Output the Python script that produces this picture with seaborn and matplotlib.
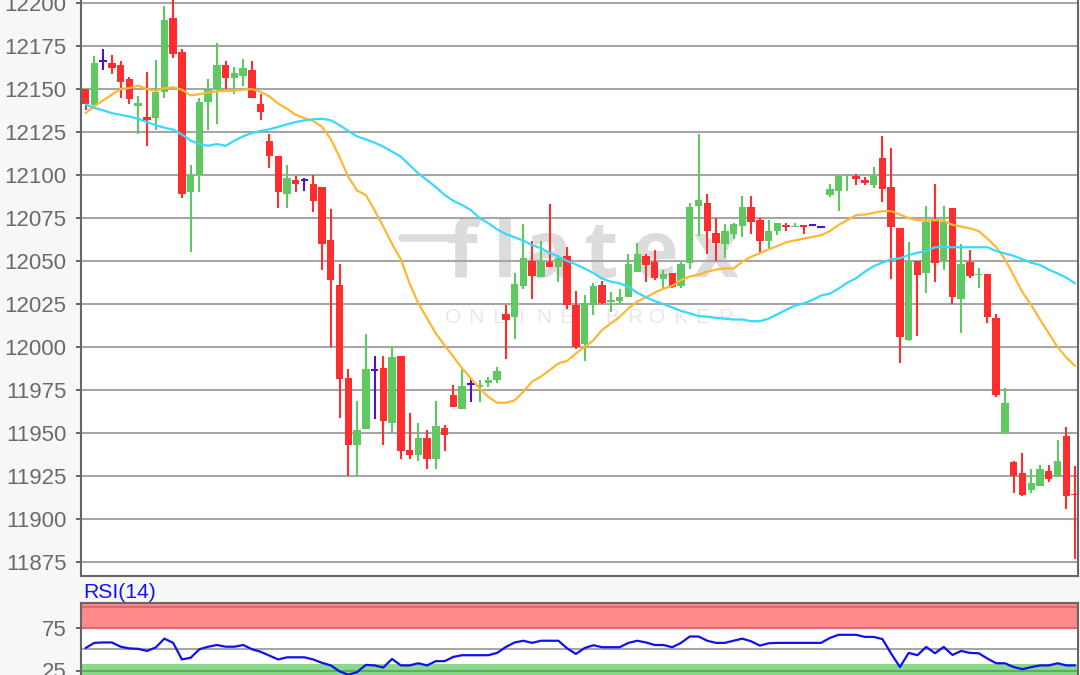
"""
Candlestick chart with two moving averages and an RSI(14) pane.
"""

import numpy as np
import pandas as pd
import matplotlib.pyplot as plt
import seaborn as sns

opens = [
    12150, 12140.5, 12166, 12165, 12164, 12156, 12140, 12134, 12133, 12148,
    12191, 12171.5, 12090, 12100, 12142.5, 12150, 12164, 12156.5, 12157.5, 12161,
    12141, 12120, 12111, 12089, 12097, 12097, 12095, 12093, 12062, 12036,
    11982, 11943, 11952.5, 11986.6, 11988, 11956, 11995, 11940, 11937.4, 11947.3,
    11935, 11953, 11972, 11964, 11978.3, 11976.5, 11979, 11980.8, 12019.2, 12017.2,
    12035.7, 12050.2, 12040.5, 12049.6, 12046.3, 12053, 12024.4, 12001.7, 12024.4, 12036,
    12026, 12026.7, 12028.9, 12043.8, 12052.9, 12049.6, 12039.3, 12043.2, 12035.7, 12048.6,
    12082, 12084, 12066.5, 12059.9, 12066, 12070.5, 12081.6, 12073.8, 12061.6, 12067.4,
    12070.9, 12069.6, 12070.9, 12071.1, 12069.8, 12088.4, 12090.7, 12099.6, 12099.4, 12096.9,
    12094.2, 12109.7, 12093.2, 12069, 12004, 12049.8, 12042.8, 12074.2, 12050.2, 12080.6,
    12027.7, 12049.4, 12041.7, 12042.2, 12016.7, 11950, 11933, 11927, 11916.7, 11919.4,
    11928, 11924.4, 11948, 11914.5,
]
closes = [
    12141.5, 12165, 12166, 12162, 12154, 12144, 12142, 12132, 12148, 12190,
    12170.5, 12089, 12100, 12142.5, 12150, 12164, 12156.5, 12159.5, 12162, 12145,
    12136.5, 12111, 12090, 12098, 12095, 12097, 12085, 12060, 12039, 11981.6,
    11943, 11951.7, 11987, 11986.6, 11957, 11994, 11939.5, 11937.4, 11947.3, 11935,
    11954, 11949, 11965, 11977.3, 11978.3, 11978, 11980.8, 11986, 12016, 12036.6,
    12051.6, 12041.5, 12050.2, 12046.7, 12051.6, 12024.4, 12000.2, 12025.8, 12035.5, 12025.8,
    12027.3, 12029.3, 12048, 12053.9, 12047.7, 12040.3, 12042.2, 12035, 12048, 12081.6,
    12085.5, 12067.4, 12060.3, 12067.4, 12071.3, 12081.6, 12072.9, 12061.6, 12067.4, 12072.3,
    12069.8, 12070.3, 12070, 12071.1, 12069.8, 12091.9, 12099.4, 12100, 12097.9, 12095.3,
    12099.4, 12091.9, 12069.8, 12005.6, 12049.8, 12041.7, 12072.9, 12048.6, 12072.9, 12028.9,
    12048.3, 12041.3, 12042.2, 12017.2, 11972, 11967.6, 11925, 11914, 11921, 11929,
    11923, 11934, 11913.6, 11913.8,
]
highs = [
    12150, 12169, 12173.5, 12170, 12166, 12157, 12146, 12160, 12167, 12198,
    12203, 12173.5, 12106, 12144.5, 12156, 12177, 12166.5, 12163, 12167.5, 12166.5,
    12147, 12124, 12111, 12106, 12099.5, 12098, 12100, 12093, 12080.5, 12048,
    11987, 11968.6, 12007.5, 11995, 11995, 12000.6, 11995, 11961.4, 11955.6, 11952,
    11968.4, 11954.5, 11977.7, 11988, 11981.8, 11980.8, 11982.4, 11988.6, 12024.4, 12043.2,
    12071.3, 12061.8, 12061.8, 12083, 12053.5, 12058.3, 12032.8, 12030.4, 12037.4, 12038.6,
    12031.8, 12034, 12053.9, 12060.7, 12053.9, 12056.4, 12044.8, 12043.2, 12049.6, 12084,
    12123.8, 12088.8, 12074.8, 12071.3, 12072.3, 12087.8, 12087.8, 12074.8, 12073.8, 12072.3,
    12072.3, 12072.3, 12070.9, 12071.1, 12069.8, 12094.6, 12100, 12100, 12100.4, 12099,
    12104.8, 12122.7, 12115.5, 12069, 12060.9, 12049.8, 12082, 12094.6, 12082, 12080.6,
    12059.7, 12056.4, 12045.7, 12042.2, 12019, 11976, 11934, 11938.5, 11929, 11931.6,
    11931.6, 11945.7, 11953.5, 11930.6,
]
lows = [
    12138, 12140, 12161, 12158.5, 12145, 12141, 12124, 12117, 12126, 12145,
    12168, 12086.5, 12055, 12090, 12126, 12129.5, 12150, 12147, 12151.5, 12145,
    12132, 12104, 12081, 12081, 12090, 12091, 12078.5, 12045, 12000, 11958.5,
    11925, 11925, 11952.5, 11958, 11943, 11950, 11934.7, 11935, 11933.7, 11929,
    11929, 11939.5, 11965, 11964, 11968, 11968, 11977, 11979, 11992.8, 12004.5,
    12033.5, 12027.7, 12040.5, 12046.3, 12038, 12022, 11998.6, 11991.7, 12018.6, 12025,
    12020.5, 12024.8, 12028.9, 12043.8, 12038, 12039, 12034.5, 12034.5, 12034.5, 12045.2,
    12064.7, 12054, 12050, 12052, 12062.6, 12063.8, 12066, 12054.5, 12056.8, 12065,
    12067.2, 12069.6, 12066, 12071.1, 12069.8, 12087, 12078.9, 12090.7, 12094.2, 12094,
    12092.6, 12084.5, 12039.3, 11990.5, 12003.5, 12006.6, 12031.2, 12038, 12044.8, 12025,
    12008, 12040.3, 12034.5, 12013.8, 11970.7, 11950, 11915, 11913.5, 11915, 11919.4,
    11921.5, 11924.4, 11906, 11877,
]
ma_fast = [
    12136, 12140, 12143.4, 12146.7, 12150, 12150.5, 12152, 12150, 12149, 12150.5,
    12151, 12149.6, 12146.3, 12147, 12148, 12148.6, 12149, 12149, 12149.6, 12150,
    12148.3, 12145.7, 12141.5, 12138.5, 12135, 12133, 12131.4, 12128, 12121, 12110.5,
    12099, 12091, 12088.4, 12079.6, 12070, 12060, 12051, 12037, 12025.4, 12016.7,
    12008, 12001, 11994.4, 11987.6, 11981.8, 11976, 11971, 11967.6, 11967.6, 11969,
    11974, 11980, 11982.8, 11986.6, 11990.5, 11992, 11996.3, 12000, 12004, 12010,
    12013.8, 12017.6, 12022.5, 12026.4, 12029, 12031.6, 12034, 12035.5, 12039, 12041,
    12042, 12043.8, 12045, 12045.7, 12045.7, 12049.6, 12052.5, 12054.5, 12056.8, 12058.7,
    12060.9, 12062, 12063, 12064, 12065, 12067.4, 12071, 12073.8, 12076.7, 12077,
    12078, 12079, 12079, 12077, 12075, 12073.8, 12073.4, 12073.8, 12073.4, 12071,
    12070, 12069, 12067.4, 12063, 12058, 12051, 12041.5, 12031.8, 12024.4, 12016,
    12008, 12000, 11994, 11989,
]
ma_slow = [
    12141, 12139, 12137.6, 12136, 12135, 12134, 12132.7, 12130.8, 12129, 12127.5,
    12126.4, 12123.6, 12120, 12118, 12117, 12118, 12117, 12120, 12122.5, 12124.4,
    12125.6, 12126.6, 12128, 12129.5, 12130.8, 12131.8, 12132.4, 12132.7, 12131.8, 12129,
    12125.6, 12122.5, 12120.7, 12118.8, 12116.5, 12113.6, 12110.7, 12105.8, 12101, 12097,
    12093, 12088.4, 12085, 12082.6, 12079.6, 12075, 12072, 12068.4, 12065.7, 12063.8,
    12061.8, 12059.3, 12057.4, 12054.8, 12052.5, 12050, 12048, 12045.6, 12043, 12039.7,
    12038, 12037, 12035, 12031.6, 12029, 12026.7, 12025, 12023, 12021, 12019.6,
    12018, 12017.6, 12017, 12016.5, 12016, 12016, 12015, 12015, 12016.5, 12019,
    12021.6, 12024, 12025.4, 12027.3, 12030, 12031, 12034, 12037.4, 12040, 12043.8,
    12047, 12049, 12051, 12051.6, 12053.5, 12054.8, 12055.8, 12058, 12058.3, 12058,
    12058, 12058, 12058, 12058, 12055.8, 12054.4, 12053, 12051, 12049, 12047.7,
    12045, 12042.8, 12040.4, 12037,
]
rsi_values = [
    51.5, 57.5, 58, 58, 53, 51, 50.5, 48, 52, 62.5,
    57.5, 38, 40, 50, 53, 55, 53, 53, 55, 50,
    47, 42.5, 38, 40.5, 40.5, 40.5, 38, 34, 31, 24,
    20, 23, 31.6, 31, 28.5, 38.6, 31, 31, 33.5, 31,
    36, 36, 41, 43, 43, 43, 43, 45.7, 52.7, 58,
    60, 57.5, 60, 60, 60, 51, 44.5, 51.5, 54.7, 52.4,
    52.4, 52.4, 57.5, 60, 58, 55, 55, 52.4, 57.5, 65,
    65, 60, 57.5, 57.5, 60, 62.5, 59.4, 54.3, 57, 57.5,
    57.5, 57.5, 57.5, 57.5, 57.5, 63.3, 67, 67, 67, 64.5,
    64.5, 62, 45, 29, 45.7, 43, 52.7, 45.3, 52.7, 43.3,
    48, 45.7, 45.3, 39, 33.5, 33.5, 29, 26.5, 29, 31,
    31, 33.5, 31, 31,
]
price_ticks = [11875, 11900, 11925, 11950, 11975, 12000, 12025, 12050, 12075, 12100, 12125, 12150, 12175, 12200]
rsi_grid = [25, 50, 75, 100]
rsi_ticks = [25, 75]

UP, DOWN, FLAT = "#60c860", "#ff2e2e", "#4a14cc"
GRID, SPINE, LABEL = "#a6a6a6", "#666666", "#6a6a6a"
MARK = "#dcdcdc"

sns.set_theme(style="white")
plt.rcParams["font.family"] = ["Liberation Sans", "DejaVu Sans"]

df = pd.DataFrame({"open": opens, "high": highs, "low": lows, "close": closes,
                   "ma_fast": ma_fast, "ma_slow": ma_slow, "rsi": rsi_values})
df["idx"] = np.arange(len(df))
df["body"] = (df["close"] - df["open"]).abs()
df["base"] = df[["open", "close"]].min(axis=1)
df["color"] = np.where(df["close"] > df["open"], UP, np.where(df["close"] < df["open"], DOWN, FLAT))

W, H = 1080, 675
PANE_L, PANE_R = 81, 1078
MAIN_T, MAIN_B = -5, 576
fig = plt.figure(figsize=(W / 100, H / 100), dpi=100, facecolor="#f7f7f7")


def add_pane(left, top, right, bottom):
    # pixel box from the top left corner of the picture
    return fig.add_axes([left / W, 1 - bottom / H, (right - left) / W, (bottom - top) / H])


def pane_xy(x, y):
    # picture pixels to axes fractions of the price pane
    return (x - PANE_L) / (PANE_R - PANE_L), (MAIN_B - y) / (MAIN_B - MAIN_T)


def style_pane(ax, ticks, grid_at):
    ax.set_facecolor("white")
    ax.set_xlim(-0.525, 113.34)
    ax.set_xticks([])
    ax.set_yticks(ticks)
    ax.set_yticklabels([str(t) for t in ticks], color=LABEL, fontsize=16)
    ax.tick_params(axis="y", left=True, length=3.6, width=1.4, color=SPINE, pad=7)
    ax.hlines(grid_at, -1, 115, color=GRID, lw=1.5, zorder=1)
    ax.spines["top"].set_visible(False)
    for side in ["left", "right", "bottom", "top"]:
        ax.spines[side].set_color(SPINE)
        ax.spines[side].set_linewidth(1.5)


# price pane
ax = add_pane(PANE_L, MAIN_T, PANE_R, MAIN_B)
ax.set_ylim(11866.9, 12204.65)
style_pane(ax, price_ticks, price_ticks)

# watermark behind the grid
x0, y0 = pane_xy(402, 238)
x1, _ = pane_xy(472, 238)
ax.plot([x0, x1], [y0, y0], transform=ax.transAxes, color=MARK, lw=5.5,
        solid_capstyle="round", zorder=0.5)
for ch, px in zip("flatex", [462, 505, 548, 600, 655, 715]):
    tx, ty = pane_xy(px, 277)
    ax.text(tx, ty, ch, transform=ax.transAxes, color=MARK, fontsize=57, ha="center",
            va="baseline", zorder=0.5, family="Open Sans", weight="bold")
for i, ch in enumerate("ONLINE BROKER"):
    tx, ty = pane_xy(453 + 22.7 * i, 317)
    ax.text(tx, ty, ch, transform=ax.transAxes, color="#e8e8e8", fontsize=15, ha="center",
            va="center", zorder=0.5, family="Liberation Sans")

sns.lineplot(data=df, x="idx", y="ma_fast", ax=ax, color="#fdb833", lw=1.6, zorder=4)
sns.lineplot(data=df, x="idx", y="ma_slow", ax=ax, color="#38d8ff", lw=1.6, zorder=4)
ax.vlines(df["idx"], df["low"], df["high"], colors=df["color"], lw=1.5, zorder=2)
ax.bar(df["idx"], df["body"], bottom=df["base"], width=0.85, color=df["color"], lw=0, zorder=3)
flat = df[df["body"] == 0]
ax.hlines(flat["open"], flat["idx"] - 0.42, flat["idx"] + 0.42, colors=FLAT, lw=1.5, zorder=3)
ax.set_xlabel("")
ax.set_ylabel("")

# rsi pane, runs off the bottom of the picture
rsi_ax = add_pane(PANE_L, 603, PANE_R, 690)
rsi_ax.set_ylim(75 - (690 - 628) / 0.85, 75 + (628 - 603) / 0.85)
style_pane(rsi_ax, rsi_ticks, rsi_grid)
rsi_ax.spines["top"].set_visible(True)
rsi_ax.axhspan(75, 110, color="#ff8a8a", lw=0, zorder=0.8)
rsi_ax.axhspan(0, 32.5, color="#8ad88a", lw=0, zorder=0.8)
rsi_ax.hlines([75, 100], -1, 115, color="#d96a6a", lw=1.5, zorder=1.2)
rsi_ax.hlines([25], -1, 115, color="#5fae5f", lw=1.5, zorder=1.2)
sns.lineplot(data=df, x="idx", y="rsi", ax=rsi_ax, color="#1010f0", lw=1.6, zorder=4)
rsi_ax.set_xlabel("")
rsi_ax.set_ylabel("")
fig.text(83 / W, 1 - 592 / H, "RSI(14)", color="#1414f0", fontsize=15.2, ha="left", va="center")

fig.savefig("out.png", dpi=100, facecolor=fig.get_facecolor())
